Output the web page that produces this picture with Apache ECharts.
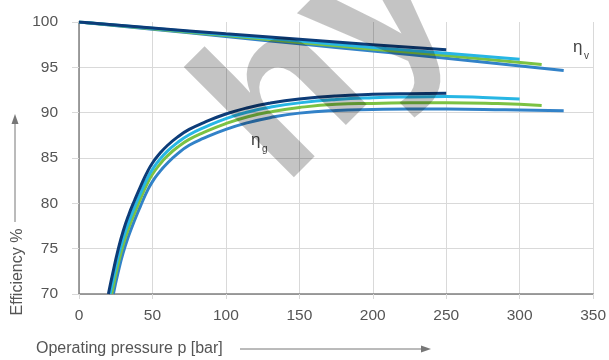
<!DOCTYPE html>
<html>
<head>
<meta charset="utf-8">
<script src="https://cdn.jsdelivr.net/npm/echarts@6/dist/echarts.min.js"></script>
<style>html,body{margin:0;padding:0;background:#fff}#c{width:609px;height:360px}</style>
</head>
<body>
<div id="c"></div>
<script>
// ---- data ----
const xTicks = [0, 50, 100, 150, 200, 250, 300, 350];
const yTicks = [70, 75, 80, 85, 90, 95, 100];

// volumetric efficiency (eta_v): pressure, efficiency
const navyVP = [0, 50, 100, 150, 200, 250];
const navyVV = [100, 99.35, 98.7, 98.1, 97.5, 96.95];
const cyanVP = [0, 50, 100, 150, 200, 250, 300];
const cyanVV = [100, 99.3, 98.6, 97.9, 97.2, 96.55, 95.9];
const greenVP = [0, 50, 100, 150, 200, 250, 315];
const greenVV = [100, 99.25, 98.5, 97.75, 97.0, 96.3, 95.3];
const blueVP = [0, 50, 100, 150, 200, 250, 330];
const blueVV = [100, 99.2, 98.4, 97.6, 96.8, 96.0, 94.65];

// overall efficiency (eta_g): pressure, efficiency
const navyGP = [20, 23, 26.5, 30, 34, 38, 42, 46, 50, 55, 60, 67, 75, 85, 100, 115, 130, 150, 175, 200, 225, 250];
const navyGV = [70, 72.3, 74.8, 76.9, 78.8, 80.4, 81.9, 83.3, 84.45, 85.5, 86.35, 87.3, 88.15, 88.9, 89.85, 90.55, 91.05, 91.5, 91.85, 92.02, 92.1, 92.13];
const cyanGP = [21.1, 23, 26.5, 30, 34, 38, 42, 46, 50, 55, 60, 67, 75, 85, 100, 115, 130, 150, 175, 200, 225, 250, 275, 300];
const cyanGV = [70, 71.45, 74.0, 76.1, 78.0, 79.65, 81.15, 82.6, 83.75, 84.85, 85.73, 86.7, 87.57, 88.35, 89.35, 90.08, 90.6, 91.08, 91.45, 91.65, 91.74, 91.77, 91.68, 91.5];
const greenGP = [22.2, 23, 26.5, 30, 34, 38, 42, 46, 50, 55, 60, 67, 75, 85, 100, 115, 130, 150, 175, 200, 225, 250, 285, 315];
const greenGV = [70, 70.6, 73.2, 75.4, 77.35, 79.0, 80.55, 82.0, 83.2, 84.3, 85.2, 86.18, 87.05, 87.83, 88.8, 89.55, 90.08, 90.57, 90.92, 91.02, 91.08, 91.1, 91.0, 90.8];
const blueGP = [23.4, 26.5, 30, 34, 38, 42, 46, 50, 55, 60, 67, 75, 85, 100, 115, 130, 150, 175, 200, 225, 250, 290, 330];
const blueGV = [70, 72.3, 74.5, 76.5, 78.2, 79.75, 81.2, 82.4, 83.5, 84.4, 85.45, 86.4, 87.18, 88.15, 88.9, 89.45, 89.95, 90.25, 90.35, 90.4, 90.4, 90.32, 90.2];

const colors = { navy: '#0d3c78', cyan: '#27b6e4', green: '#7cc243', blue: '#3282c8' };

function pairs(xs, ys) { return xs.map((x, i) => [x, ys[i]]); }
function line(name, xs, ys, color) {
  return {
    name: name, type: 'line', data: pairs(xs, ys), showSymbol: false,
    smooth: 0.5,
    lineStyle: { color: color, width: 3 }, itemStyle: { color: color }, z: 3
  };
}

const chart = echarts.init(document.getElementById('c'), null, { renderer: 'canvas' });
const gridColor = '#d9d9d9';
const axisColor = '#808080';
const textColor = '#555555';
const font = '"Liberation Sans", Arial, Helvetica, sans-serif';

chart.setOption({
  animation: false,
  grid: { left: 79, right: 13, top: 22, bottom: 66 },
  xAxis: {
    type: 'value', min: xTicks[0], max: xTicks[xTicks.length - 1], interval: 50,
    axisLine: { lineStyle: { color: axisColor, width: 1.5 } },
    axisTick: { show: true, length: 5, lineStyle: { color: gridColor } },
    splitLine: { show: true, lineStyle: { color: gridColor, width: 1 } },
    axisLabel: { color: textColor, fontSize: 15.5, fontFamily: font, margin: 14 }
  },
  yAxis: {
    type: 'value', min: yTicks[0], max: yTicks[yTicks.length - 1], interval: 5,
    axisLine: { show: true, lineStyle: { color: axisColor, width: 1.5 } },
    axisTick: { show: true, length: 7, lineStyle: { color: gridColor } },
    splitLine: { show: true, lineStyle: { color: [gridColor, gridColor, gridColor, gridColor, gridColor, gridColor, 'rgba(0,0,0,0)'], width: 1 } },
    axisLabel: { color: textColor, fontSize: 15.5, fontFamily: font, margin: 21 }
  },
  series: [
    line('blue v', blueVP, blueVV, colors.blue),
    line('green v', greenVP, greenVV, colors.green),
    line('cyan v', cyanVP, cyanVV, colors.cyan),
    line('navy v', navyVP, navyVV, colors.navy),
    line('blue g', blueGP, blueGV, colors.blue),
    line('green g', greenGP, greenGV, colors.green),
    line('cyan g', cyanGP, cyanGV, colors.cyan),
    line('navy g', navyGP, navyGV, colors.navy)
  ],
  graphic: [
    // watermark
    { type: 'text', x: 330, y: 57, rotation: Math.PI / 4, z: 100, silent: true,
      style: { text: 'hy', fontSize: 215, fontWeight: 'bold', fontFamily: font,
        fill: 'rgba(0,0,0,0.23)', textAlign: 'center', textVerticalAlign: 'middle' } },
    // curve labels
    { type: 'text', x: 573, y: 47, z: 10, style: { text: 'η', fontSize: 17, fontFamily: font, fill: '#444', textVerticalAlign: 'middle' } },
    { type: 'text', x: 584, y: 56, z: 10, style: { text: 'v', fontSize: 10, fontFamily: font, fill: '#444', textVerticalAlign: 'middle' } },
    { type: 'text', x: 251, y: 140, z: 10, style: { text: 'η', fontSize: 17, fontFamily: font, fill: '#444', textVerticalAlign: 'middle' } },
    { type: 'text', x: 262, y: 149, z: 10, style: { text: 'g', fontSize: 10, fontFamily: font, fill: '#444', textVerticalAlign: 'middle' } },
    // x axis name + arrow
    { type: 'text', x: 36, y: 349, style: { text: 'Operating pressure p [bar]', fontSize: 16, fontFamily: font, fill: textColor, textVerticalAlign: 'middle' } },
    { type: 'line', shape: { x1: 240, y1: 349, x2: 423, y2: 349 }, style: { stroke: '#777', lineWidth: 1 } },
    { type: 'polygon', shape: { points: [[431, 349], [421, 345.5], [421, 352.5]] }, style: { fill: '#777' } },
    // y axis name + arrow
    { type: 'text', x: 18, y: 272, rotation: Math.PI / 2, style: { text: 'Efficiency %', fontSize: 16, fontFamily: font, fill: textColor, textAlign: 'center', textVerticalAlign: 'middle' } },
    { type: 'line', shape: { x1: 15, y1: 222, x2: 15, y2: 123 }, style: { stroke: '#777', lineWidth: 1 } },
    { type: 'polygon', shape: { points: [[15, 114], [11.5, 124], [18.5, 124]] }, style: { fill: '#777' } }
  ]
});
</script>
</body>
</html>
